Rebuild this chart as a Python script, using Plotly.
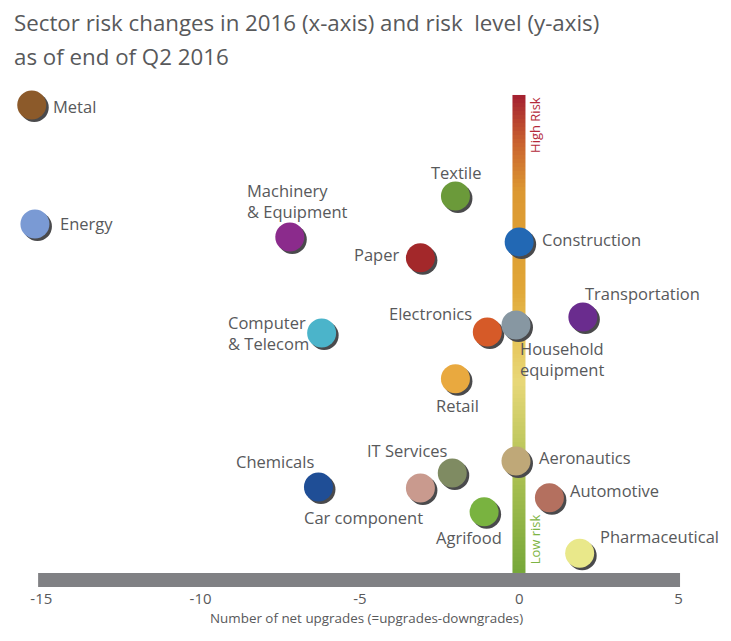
import numpy as np
import plotly.graph_objects as go

# ---------------- data ----------------
sectors = ["Metal", "Energy", "Machinery<br>& Equipment", "Textile", "Paper", "Construction",
           "Transportation", "Computer<br>& Telecom", "Electronics", "Household<br>equipment",
           "Retail", "Chemicals", "IT Services", "Car component", "Aeronautics", "Automotive",
           "Agrifood", "Pharmaceutical"]
net_upgrades = [-15.3, -15.2, -7.2, -2.0, -3.1, 0.0,
                2.0, -6.2, -1.0, -0.1,
                -2.0, -6.3, -2.1, -3.1, -0.1, 0.95,
                -1.1, 1.9]
risk_level = [97.0, 73.1, 70.5, 78.7, 66.3, 69.5,
              54.4, 51.2, 51.4, 52.8,
              42.0, 20.3, 23.1, 20.1, 25.5, 18.1,
              15.3, 7.0]
x_ticks = [-15, -10, -5, 0, 5]
x_tick_labels = ["-15", "-10", "-5", "0", "5"]

# ---------------- styles ----------------
colors = ["#8C5A2A", "#7A9AD4", "#8B2B8C", "#6B9A3A", "#A3282A", "#2268B4",
          "#6A2C8E", "#4BB4CA", "#D65A28", "#8797A2",
          "#E9A93F", "#1F4E96", "#7F8B62", "#C99A8E", "#BFA878", "#B4705F",
          "#79B340", "#E9E88A"]
# label placement: (xanchor, xshift px, yshift px, align)
label_pos = {
    "Metal": ("left", 19, -2, "left"),
    "Energy": ("left", 23, 0, "left"),
    "Machinery<br>& Equipment": ("left", -45, 36, "left"),
    "Textile": ("center", 1, 24, "center"),
    "Paper": ("right", -19, 3, "right"),
    "Construction": ("left", 21, 2, "left"),
    "Transportation": ("left", 0, 24, "left"),
    "Computer<br>& Telecom": ("left", -96, 0, "left"),
    "Electronics": ("right", -13, 19, "right"),
    "Household<br>equipment": ("left", 2, -34, "left"),
    "Retail": ("center", 2, -27, "center"),
    "Chemicals": ("right", -2, 25, "right"),
    "IT Services": ("right", -2, 22, "right"),
    "Car component": ("right", 5, -30, "right"),
    "Aeronautics": ("left", 21, 4, "left"),
    "Automotive": ("left", 19, 7, "left"),
    "Agrifood": ("center", -15, -26, "center"),
    "Pharmaceutical": ("left", 18, 17, "left"),
}
FONT = "Open Sans"
TXT = "#58595B"
XR = [-15.7, 5.3]
YR = [0, 100]
W, H = 731, 641
ML, MR, MT, MB = 19, 43, 90, 53
px_per_x = (W - ML - MR) / (XR[1] - XR[0])
px_per_y = (H - MT - MB) / (YR[1] - YR[0])
sdx, sdy = 2.5 / px_per_x, 2.5 / px_per_y


def paper_x(px):
    return (px - ML) / (W - ML - MR)


def paper_y(py):
    return (H - MB - py) / (H - MT - MB)


fig = go.Figure()

# gradient risk bar (heatmap)
nb = 120
edges = np.linspace(3.0, 99.0, nb + 1)
zc = ((edges[:-1] + edges[1:]) / 2).reshape(-1, 1)
fig.add_trace(go.Heatmap(
    x=[-0.21, 0.21], y=edges, z=zc, zmin=3.0, zmax=99.0,
    colorscale=[[0.0, "#76A83A"], [0.22, "#AFC254"], [0.4, "#E8D878"],
                [0.5, "#E6C255"], [0.6, "#E0A536"], [0.8, "#DC9832"],
                [0.9, "#C9622F"], [1.0, "#A31F30"]],
    showscale=False, hoverinfo="skip"))

# shadows
fig.add_trace(go.Scatter(
    x=[v + sdx for v in net_upgrades], y=[v - sdy for v in risk_level], mode="markers",
    marker=dict(size=29, color="#4A4A4C", line=dict(width=0)),
    hoverinfo="skip", showlegend=False, cliponaxis=False))
# bubbles
fig.add_trace(go.Scatter(
    x=net_upgrades, y=risk_level, mode="markers", text=sectors,
    hovertemplate="%{text}<extra></extra>",
    marker=dict(size=29, color=colors, line=dict(width=0)),
    showlegend=False, cliponaxis=False))

# gray base bar
fig.add_shape(type="rect", x0=-15.1, x1=5.05, y0=0.2, y1=3.0,
              fillcolor="#808184", line=dict(width=0), layer="below")

ann = []
for name, xv, yv in zip(sectors, net_upgrades, risk_level):
    xa, xs, ys, al = label_pos[name]
    ann.append(dict(x=xv, y=yv, xref="x", yref="y", text=name, showarrow=False,
                    xanchor=xa, yanchor="middle", xshift=xs, yshift=ys, align=al,
                    font=dict(family=FONT, size=16.5, color=TXT)))

# risk labels
ann.append(dict(x=0.5, y=93.0, xref="x", yref="y", text="High Risk", textangle=-90,
                showarrow=False, font=dict(family=FONT, size=13, color="#B42A3A"),
                xanchor="center", yanchor="middle"))
ann.append(dict(x=0.5, y=9.8, xref="x", yref="y", text="Low risk", textangle=-90,
                showarrow=False, font=dict(family=FONT, size=13, color="#7DB443"),
                xanchor="center", yanchor="middle"))

# title
ann.append(dict(x=paper_x(12), y=paper_y(22), xref="paper", yref="paper",
                text="Sector risk changes in 2016 (x-axis) and risk  level (y-axis)",
                showarrow=False, xanchor="left", yanchor="middle",
                font=dict(family=FONT, size=22.3, color=TXT)))
ann.append(dict(x=paper_x(12), y=paper_y(56), xref="paper", yref="paper",
                text="as of end of Q2 2016",
                showarrow=False, xanchor="left", yanchor="middle",
                font=dict(family=FONT, size=22.3, color=TXT)))
# axis title
ann.append(dict(x=paper_x(366), y=paper_y(618), xref="paper", yref="paper",
                text="Number of net upgrades (=upgrades-downgrades)",
                showarrow=False, xanchor="center", yanchor="middle",
                font=dict(family=FONT, size=13.4, color=TXT)))

fig.update_layout(
    width=W, height=H, margin=dict(l=ML, r=MR, t=MT, b=MB),
    paper_bgcolor="white", plot_bgcolor="white",
    xaxis=dict(range=XR, tickvals=x_ticks, ticktext=x_tick_labels, showgrid=False,
               zeroline=False, showline=False, ticks="",
               tickfont=dict(family=FONT, size=15, color=TXT)),
    yaxis=dict(range=YR, visible=False, showgrid=False, zeroline=False),
    annotations=ann, showlegend=False,
)

fig.write_html("out.html", config={"displayModeBar": False},
               post_script="document.body.style.margin='0px';document.body.style.overflow='hidden';")
